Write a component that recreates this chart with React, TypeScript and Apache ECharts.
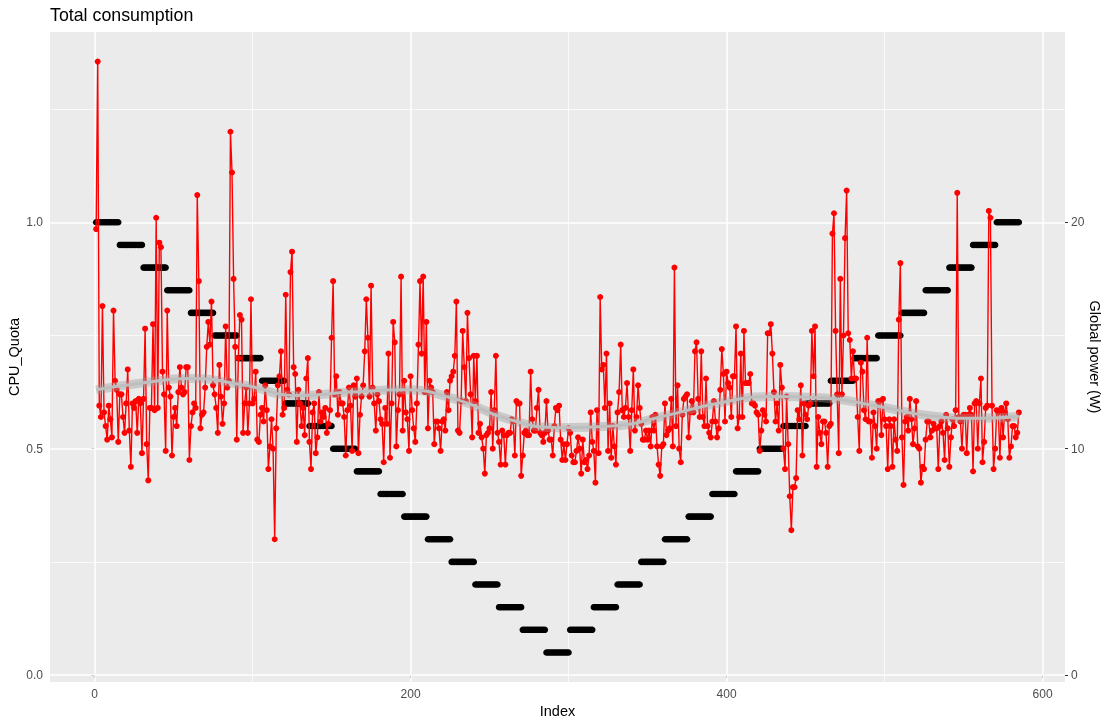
import React, { useEffect, useRef } from "react";
import * as echarts from "echarts";

// ---- data ----
const chartTitle = "Total consumption";
const xTitle = "Index";
const leftTitle = "CPU_Quota";
const rightTitle = "Global power (W)";

// CPU quota levels, each held for stepLength consecutive indices
const stepLevels = [
  1.0, 0.95, 0.9, 0.85, 0.8, 0.75, 0.7, 0.65, 0.6, 0.55, 0.5, 0.45, 0.4, 0.35, 0.3, 0.25, 0.2, 0.15, 0.1, 0.05,
  0.1, 0.15, 0.2, 0.25, 0.3, 0.35, 0.4, 0.45, 0.5, 0.55, 0.6, 0.65, 0.7, 0.75, 0.8, 0.85, 0.9, 0.95, 1.0,
];
const stepLength = 15;

// Global power (W), index 1..585
const powerW = [
  19.7, 27.1, 11.9, 11.4, 16.3, 11.6, 11.0, 10.4, 11.9, 11.3,
  10.5, 16.1, 13.0, 12.6, 10.3, 12.4, 12.4, 11.4, 10.7, 12.0,
  13.5, 10.8, 9.2, 12.0, 11.8, 12.1, 10.7, 12.2, 12.0, 9.8,
  12.2, 15.3, 10.2, 8.6, 11.8, 11.8, 15.5, 11.7, 20.2, 11.8,
  19.1, 18.9, 13.4, 12.4, 9.9, 16.1, 12.7, 12.3, 9.7, 11.4,
  11.8, 11.0, 12.5, 13.6, 12.7, 12.4, 12.5, 13.6, 13.6, 9.5,
  11.0, 11.6, 12.0, 11.8, 21.2, 17.4, 10.9, 11.5, 11.6, 12.7,
  14.5, 15.6, 14.6, 16.5, 12.8, 12.4, 11.8, 10.7, 13.7, 12.3,
  11.1, 12.0, 15.4, 12.7, 13.0, 24.0, 22.2, 17.5, 14.5, 10.4,
  14.0, 15.9, 15.7, 10.7, 12.0, 12.7, 10.7, 12.0, 16.6, 12.0,
  12.2, 13.4, 10.4, 10.3, 11.5, 11.8, 11.2, 12.8, 11.7, 9.1,
  10.1, 11.3, 10.0, 6.0, 10.9, 12.8, 13.2, 14.3, 11.5, 11.8,
  16.8, 12.6, 12.4, 17.8, 18.7, 13.6, 13.3, 10.3, 12.6, 12.0,
  11.0, 11.8, 10.6, 13.1, 14.0, 10.3, 9.1, 11.6, 12.0, 9.8,
  10.5, 12.5, 11.2, 11.6, 11.4, 11.8, 10.7, 11.1, 11.7, 14.9,
  17.4, 12.4, 13.2, 11.5, 12.5, 12.0, 12.0, 11.4, 9.7, 11.7,
  12.7, 11.9, 9.9, 12.8, 12.3, 13.1, 9.8, 11.5, 12.3, 12.8,
  14.3, 16.6, 14.9, 12.3, 17.2, 12.7, 12.0, 10.8, 12.4, 12.1,
  11.3, 11.1, 9.4, 11.8, 11.1, 14.2, 9.6, 12.0, 15.6, 14.7,
  10.1, 11.7, 12.4, 17.6, 10.8, 13.0, 11.6, 11.3, 9.9, 13.2,
  11.7, 10.9, 10.3, 12.0, 14.6, 17.4, 14.2, 17.6, 12.5, 15.6,
  10.9, 13.0, 12.7, 12.5, 10.2, 11.2, 11.2, 10.9, 9.9, 11.2,
  11.3, 10.8, 12.5, 11.7, 13.0, 13.2, 13.4, 14.1, 16.5, 10.8,
  10.7, 12.1, 15.2, 13.6, 12.1, 16.0, 14.0, 12.4, 10.5, 14.1,
  12.1, 14.1, 10.7, 11.1, 10.5, 10.0, 8.9, 10.6, 10.7, 10.9,
  12.5, 10.0, 11.7, 14.1, 10.7, 10.3, 9.3, 10.8, 10.6, 9.3,
  10.6, 10.7, 10.7, 11.3, 11.2, 9.7, 12.1, 12.0, 12.0, 8.8,
  9.7, 10.7, 10.8, 10.6, 10.6, 13.4, 11.3, 10.8, 10.8, 11.8,
  12.6, 10.7, 10.6, 10.3, 10.7, 12.1, 10.8, 10.4, 10.4, 9.7,
  11.0, 11.8, 11.7, 11.9, 10.4, 9.5, 10.2, 9.5, 10.2, 10.9,
  10.7, 9.7, 9.4, 9.4, 9.9, 10.5, 10.0, 8.9, 10.4, 9.4,
  9.5, 9.1, 9.7, 11.6, 10.3, 9.9, 8.5, 11.7, 9.8, 16.7,
  13.5, 13.7, 11.8, 14.2, 9.9, 12.0, 9.6, 11.0, 10.1, 9.3,
  11.6, 12.5, 14.6, 11.7, 11.4, 11.8, 12.9, 11.4, 9.9, 11.7,
  13.5, 10.8, 11.4, 12.8, 11.8, 11.1, 10.4, 10.4, 10.8, 10.4,
  10.8, 10.1, 11.4, 10.8, 11.5, 10.1, 9.3, 8.8, 10.1, 10.2,
  12.0, 10.6, 10.8, 10.9, 12.2, 10.1, 18.0, 11.0, 12.8, 10.0,
  9.4, 11.5, 12.2, 12.3, 12.4, 10.5, 11.6, 12.1, 11.6, 14.3,
  14.7, 12.2, 11.4, 14.3, 11.4, 11.0, 13.1, 11.0, 10.7, 10.5,
  11.2, 12.1, 11.2, 10.5, 10.9, 12.6, 14.4, 13.3, 11.2, 13.4,
  12.9, 12.7, 11.4, 13.2, 13.2, 15.4, 10.9, 11.4, 14.2, 11.4,
  15.2, 12.9, 12.9, 12.9, 13.3, 12.0, 12.0, 11.9, 11.6, 11.5,
  9.9, 10.8, 11.7, 11.5, 11.2, 15.1, 15.1, 15.5, 14.2, 12.5,
  11.2, 12.0, 10.8, 13.7, 12.7, 10.0, 9.1, 12.3, 10.2, 7.9,
  6.4, 8.3, 8.3, 8.7, 11.7, 11.3, 12.8, 9.7, 12.0, 11.5,
  11.3, 11.9, 12.0, 15.2, 13.2, 15.4, 9.2, 11.4, 10.7, 10.2,
  11.2, 11.2, 10.7, 9.2, 11.0, 11.1, 19.5, 20.4, 15.2, 12.4,
  9.8, 17.5, 12.4, 15.0, 19.3, 21.4, 15.1, 14.8, 13.1, 14.3,
  13.1, 13.1, 11.4, 9.9, 13.8, 13.4, 11.7, 11.3, 14.9, 11.2,
  11.2, 9.6, 11.6, 11.0, 10.0, 12.1, 12.1, 10.6, 12.2, 11.3,
  11.0, 9.1, 11.3, 11.0, 9.2, 11.3, 10.4, 9.9, 15.7, 18.2,
  10.5, 8.4, 11.2, 11.4, 10.8, 12.2, 11.3, 10.2, 10.9, 12.1,
  10.1, 10.0, 8.5, 9.2, 9.1, 10.4, 11.2, 11.2, 10.5, 10.8,
  11.1, 10.9, 10.9, 9.1, 11.0, 11.2, 10.7, 9.5, 11.5, 10.9,
  9.2, 10.5, 11.3, 11.0, 11.7, 21.3, 11.4, 11.2, 10.0, 11.5,
  11.5, 9.8, 11.5, 11.8, 11.5, 9.0, 12.0, 12.1, 10.0, 12.0,
  13.1, 9.4, 10.3, 11.8, 11.9, 20.5, 20.2, 11.9, 9.1, 10.0,
  11.7, 11.6, 9.6, 11.8, 10.5, 11.6, 12.0, 11.3, 9.6, 10.1,
  11.0, 11.0, 10.5, 10.7, 11.6,
];

// smoothed fit of power (W), read at these indices
const smoothIdx = [1, 30, 60, 95, 128, 162, 195, 228, 262, 294, 328, 361, 394, 427, 460, 494, 527, 560, 585];
const smoothFit = [12.6, 12.9, 13.1, 12.8, 12.35, 12.5, 12.6, 12.2, 11.3, 10.93, 11.0, 11.45, 12.0, 12.3, 12.25, 11.9, 11.47, 11.34, 11.42];

const xMajor = [0, 200, 400, 600];
const xMinor = [100, 300, 500];
const cpuMajor = [0, 0.5, 1.0];
const cpuMinor = [0.25, 0.75, 1.25];
const powerTicks = [0, 10, 20];

const FONT = "Liberation Sans, Arial, Helvetica, sans-serif";

export default function App() {
  const ref = useRef<HTMLDivElement>(null);

  useEffect(() => {
    if (!ref.current) return;
    const chart = echarts.init(ref.current, null, { renderer: "svg" });

    const blackData: number[][] = [];
    stepLevels.forEach((lv, k) => {
      for (let j = 1; j <= stepLength; j++) blackData.push([k * stepLength + j, lv]);
    });
    const redData = powerW.map((v, i) => [i + 1, v]);
    const fitData = smoothIdx.map((x, i) => [x, smoothFit[i]]);

    const gridLines: any[] = [
      ...xMajor.map((v) => ({ xAxis: v, lineStyle: { width: 1.5 } })),
      ...xMinor.map((v) => ({ xAxis: v, lineStyle: { width: 0.75 } })),
      ...cpuMajor.map((v) => ({ yAxis: v, lineStyle: { width: 1.5 } })),
      ...cpuMinor.map((v) => ({ yAxis: v, lineStyle: { width: 0.75 } })),
    ];

    const labelStyle = { color: "#4D4D4D", fontSize: 12, fontFamily: FONT };
    const tickStyle = { show: true, length: 3, lineStyle: { color: "#333333", width: 1 } };

    chart.setOption({
      animation: false,
      title: {
        text: chartTitle,
        left: 50,
        top: 6,
        padding: 0,
        textStyle: { fontSize: 17.8, fontWeight: "normal", color: "#000", fontFamily: FONT },
      },
      grid: {
        left: 50,
        right: 47,
        top: 32,
        bottom: 45,
        show: true,
        backgroundColor: "#EBEBEB",
        borderWidth: 0,
      },
      xAxis: {
        type: "value",
        min: -28.2,
        max: 614.2,
        axisLine: { show: false },
        splitLine: { show: false },
        axisTick: { ...tickStyle, customValues: xMajor },
        axisLabel: { ...labelStyle, margin: 6, customValues: xMajor, formatter: (v: number) => String(v) },
      },
      yAxis: [
        {
          type: "value",
          position: "left",
          min: -0.01525,
          max: 1.42025,
          axisLine: { show: false },
          splitLine: { show: false },
          axisTick: { ...tickStyle, customValues: cpuMajor },
          axisLabel: { ...labelStyle, margin: 7, customValues: cpuMajor, formatter: (v: number) => v.toFixed(1) },
        },
        {
          type: "value",
          position: "right",
          min: -0.305,
          max: 28.405,
          axisLine: { show: false },
          splitLine: { show: false },
          axisTick: { ...tickStyle, customValues: powerTicks },
          axisLabel: { ...labelStyle, margin: 6, customValues: powerTicks, formatter: (v: number) => String(v) },
        },
      ],
      graphic: [
        {
          type: "text",
          x: 557.5,
          y: 711,
          style: { text: xTitle, fontSize: 14.5, fill: "#000", fontFamily: FONT, align: "center", verticalAlign: "middle" },
        },
        {
          type: "text",
          x: 14,
          y: 357,
          rotation: Math.PI / 2,
          style: { text: leftTitle, fontSize: 14.5, fill: "#000", fontFamily: FONT, align: "center", verticalAlign: "middle" },
        },
        {
          type: "text",
          x: 1095,
          y: 357,
          rotation: -Math.PI / 2,
          style: { text: rightTitle, fontSize: 14.5, fill: "#000", fontFamily: FONT, align: "center", verticalAlign: "middle" },
        },
      ],
      series: [
        {
          type: "line",
          name: "grid",
          xAxisIndex: 0,
          yAxisIndex: 0,
          data: [[0, 0]],
          showSymbol: false,
          lineStyle: { opacity: 0 },
          silent: true,
          z: 1,
          markLine: {
            silent: true,
            z: 1,
            symbol: ["none", "none"],
            label: { show: false },
            lineStyle: { color: "#FFFFFF", type: "solid" },
            data: gridLines,
          },
        },
        {
          type: "scatter",
          name: "CPU_Quota",
          xAxisIndex: 0,
          yAxisIndex: 0,
          data: blackData,
          symbol: "circle",
          symbolSize: 6.5,
          itemStyle: { color: "#000000", opacity: 1 },
          silent: true,
          z: 2,
        },
        {
          type: "line",
          name: "power",
          xAxisIndex: 0,
          yAxisIndex: 1,
          data: redData,
          symbol: "circle",
          symbolSize: 6,
          showSymbol: true,
          showAllSymbol: true,
          lineStyle: { color: "#FF0000", width: 1.4 },
          itemStyle: { color: "#FF0000", opacity: 1 },
          silent: true,
          z: 3,
        },
        {
          type: "line",
          name: "band",
          xAxisIndex: 0,
          yAxisIndex: 1,
          data: fitData,
          smooth: true,
          showSymbol: false,
          lineStyle: { color: "rgba(153,153,153,0.4)", width: 9, cap: "butt" },
          silent: true,
          z: 4,
        },
        {
          type: "line",
          name: "fit",
          xAxisIndex: 0,
          yAxisIndex: 1,
          data: fitData,
          smooth: true,
          showSymbol: false,
          lineStyle: { color: "#BEBEBE", width: 3 },
          silent: true,
          z: 5,
        },
      ],
    });

    return () => chart.dispose();
  }, []);

  return (
    <div
      ref={ref}
      style={{ position: "fixed", left: 0, top: 0, width: 1112, height: 727 }}
    />
  );
}
